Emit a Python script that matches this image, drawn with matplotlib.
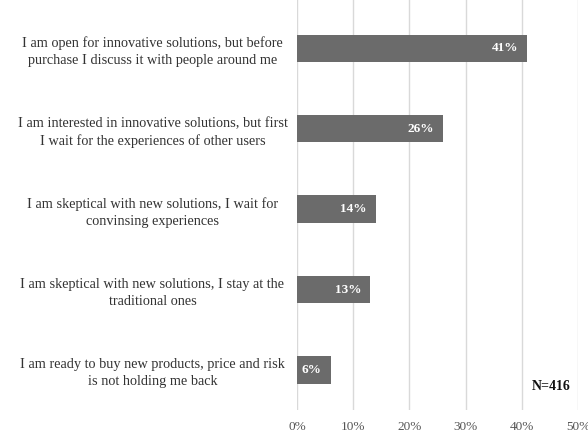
import matplotlib.pyplot as plt
from matplotlib.ticker import FuncFormatter

categories = [
    "I am open for innovative solutions, but before\npurchase I discuss it with people around me",
    "I am interested in innovative solutions, but first\nI wait for the experiences of other users",
    "I am skeptical with new solutions, I wait for\nconvinsing experiences",
    "I am skeptical with new solutions, I stay at the\ntraditional ones",
    "I am ready to buy new products, price and risk\nis not holding me back",
]
shares = [41, 26, 14, 13, 6]
x_ticks = [0, 10, 20, 30, 40, 50]
sample_note = "N=416"

plt.rcParams["font.family"] = ["Liberation Serif", "DejaVu Serif"]

fig = plt.figure(figsize=(5.88, 4.34), dpi=100)
ax = fig.add_axes([0.505, 0.055, 0.478, 0.945])

y = list(range(len(categories)))
ax.barh(y, shares, height=0.34, color="#6b6b6b", zorder=3)

for yi, v in zip(y, shares):
    ax.text(v - 1.6, yi, f"{v}%", ha="right", va="center",
            color="white", fontsize=9.5, fontweight="bold", zorder=4)

ax.set_xlim(0, 50)
ax.set_ylim(4.5, -0.6)
ax.set_xticks(x_ticks)
ax.xaxis.set_major_formatter(FuncFormatter(lambda v, p: f"{v:.0f}%"))
ax.set_yticks(y)
ax.set_yticklabels(categories, ha="center", multialignment="center", linespacing=1.4)
ax.tick_params(axis="y", length=0, pad=104, labelsize=10.3, labelcolor="#333333")
ax.tick_params(axis="x", length=0, pad=8, labelsize=9.5, labelcolor="#555555")
ax.grid(axis="x", color="#d9d9d9", linewidth=1, zorder=0)
for s in ax.spines.values():
    s.set_visible(False)

ax.text(45.2, 4.2, sample_note, ha="center", va="center",
        fontsize=10, fontweight="bold", color="#111111")

fig.savefig("out.png", dpi=100)
